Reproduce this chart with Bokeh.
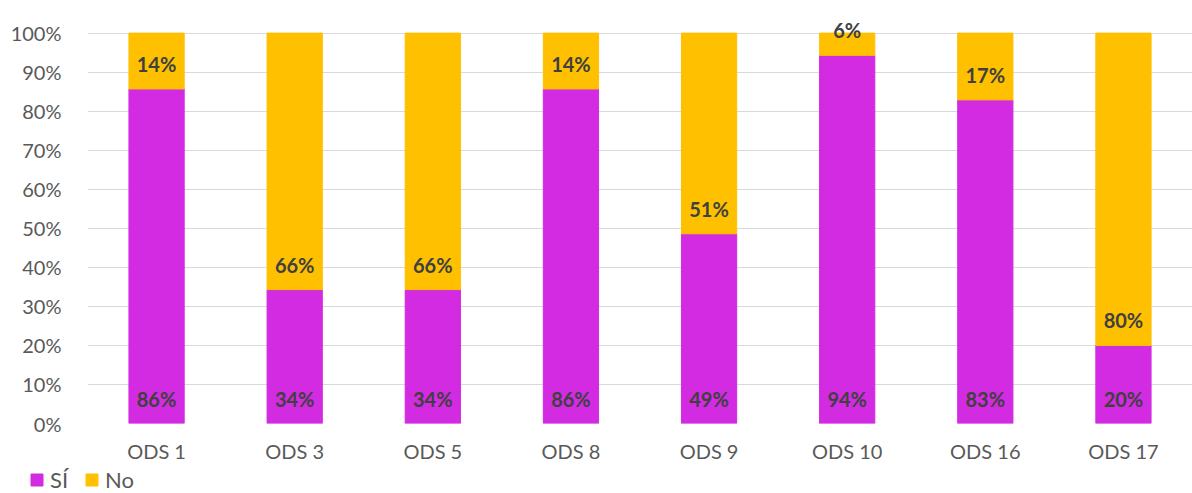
from bokeh.plotting import figure
from bokeh.layouts import column
from bokeh.models import (ColumnDataSource, FactorRange, Range1d, FixedTicker,
                          NumeralTickFormatter, Legend, LegendItem)
from bokeh.core.properties import value
from bokeh.embed import file_html
from bokeh.resources import INLINE

categories = ["ODS 1", "ODS 3", "ODS 5", "ODS 8", "ODS 9", "ODS 10", "ODS 16", "ODS 17"]
si_values = [85.7, 34.3, 34.3, 85.7, 48.6, 94.3, 82.9, 20.0]
no_values = [14.3, 65.7, 65.7, 14.3, 51.4, 5.7, 17.1, 80.0]
series_names = ["SÍ", "No"]
y_tick_values = [0, 10, 20, 30, 40, 50, 60, 70, 80, 90, 100]

SI_COLOR = "#D22BE2"
NO_COLOR = "#FFC000"
FONT = "Lato"

si = [v / 100 for v in si_values]
no = [v / 100 for v in no_values]
src = ColumnDataSource(dict(
    x=categories,
    si_bottom=[0.0] * len(si),
    si_top=si,
    no_bottom=si,
    no_top=[a + b for a, b in zip(si, no)],
    si_label=[f"{round(v)}%" for v in si_values],
    no_label=[f"{round(v)}%" for v in no_values],
))

# ---- main chart ----
p = figure(x_range=FactorRange(*categories), y_range=Range1d(0, 1.04),
           width=1192, height=465, output_backend="svg", toolbar_location=None,
           min_border_left=87, min_border_right=0, min_border_top=17, min_border_bottom=36)
p.outline_line_color = None
p.background_fill_color = "white"
p.border_fill_color = "white"

p.vbar(x="x", bottom="si_bottom", top="si_top", width=0.4, source=src,
       fill_color=SI_COLOR, line_color=SI_COLOR)
p.vbar(x="x", bottom="no_bottom", top="no_top", width=0.4, source=src,
       fill_color=NO_COLOR, line_color=NO_COLOR)

for base, lab in (("si_bottom", "si_label"), ("no_bottom", "no_label")):
    p.text(x="x", y=base, text=lab, source=src, y_offset=-25,
           text_align="center", text_baseline="middle",
           text_font=value(FONT), text_font_style="bold",
           text_font_size="20px", text_color="#404040")

p.xgrid.grid_line_color = None
p.ygrid.grid_line_color = "#d9d9d9"
p.ygrid.grid_line_width = 1

p.yaxis.ticker = FixedTicker(ticks=[t / 100 for t in y_tick_values])
p.yaxis.formatter = NumeralTickFormatter(format="0%")
for ax in (p.xaxis, p.yaxis):
    ax.axis_line_color = None
    ax.major_tick_line_color = None
    ax.minor_tick_line_color = None
    ax.major_label_text_font = FONT
    ax.major_label_text_font_size = "20px"
    ax.major_label_text_color = "#595959"
p.yaxis.major_label_standoff = 20
p.xaxis.major_label_standoff = 9

# ---- legend strip below the chart ----
q = figure(width=1192, height=28, output_backend="svg", toolbar_location=None,
           x_axis_type=None, y_axis_type=None,
           x_range=Range1d(0, 1), y_range=Range1d(0, 1),
           min_border_left=0, min_border_right=0, min_border_top=0, min_border_bottom=0)
q.outline_line_color = None
q.grid.grid_line_color = None
q.background_fill_color = "white"
q.border_fill_color = "white"
for fig in (p, q):
    try:
        fig.frame_align = False
    except Exception:
        pass

# legend swatches (proxy glyphs kept outside the strip's visible range)
l_si = q.vbar(x=[-5], bottom=[-5], top=[-4], width=0.1, fill_color=SI_COLOR, line_color=SI_COLOR)
l_no = q.vbar(x=[-5], bottom=[-5], top=[-4], width=0.1, fill_color=NO_COLOR, line_color=NO_COLOR)

legend = Legend(items=[LegendItem(label=series_names[0], renderers=[l_si]),
                       LegendItem(label=series_names[1], renderers=[l_no])],
                orientation="horizontal", location=(29, 0),
                glyph_width=15, glyph_height=15, label_standoff=6, spacing=14,
                padding=0, margin=0, border_line_color=None,
                background_fill_alpha=0,
                label_text_font=FONT, label_text_font_size="22px",
                label_text_color="#595959")
q.add_layout(legend, "center")

layout = column(p, q, spacing=0)
open("out.html", "w").write(file_html(layout, INLINE))
